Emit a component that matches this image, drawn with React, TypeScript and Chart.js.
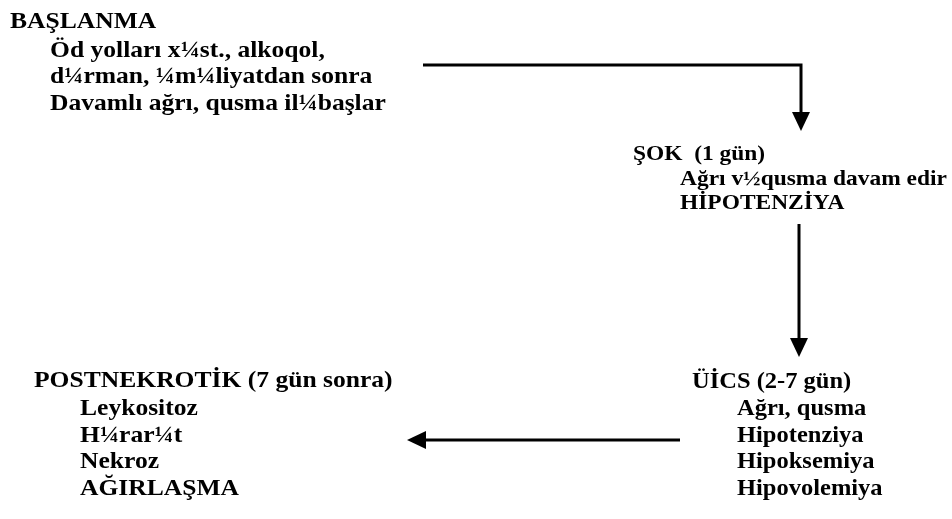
import React, { useEffect, useRef } from "react";
import { Chart, registerables } from "chart.js";

Chart.register(...registerables);

// Text blocks: label, x, baseline y (scale units = page pixels)
const textLabels: string[] = [
  "BAŞLANMA",
  "Öd yolları x¼st., alkoqol,",
  "d¼rman, ¼m¼liyatdan sonra",
  "Davamlı ağrı, qusma il¼başlar",
  "ŞOK  (1 gün)",
  "Ağrı v½qusma davam edir",
  "HİPOTENZİYA",
  "POSTNEKROTİK (7 gün sonra)",
  "Leykositoz",
  "H¼rar¼t",
  "Nekroz",
  "AĞIRLAŞMA",
  "ÜİCS (2-7 gün)",
  "Ağrı, qusma",
  "Hipotenziya",
  "Hipoksemiya",
  "Hipovolemiya",
];
const textX: number[] = [10, 50, 50, 50, 633, 680, 680, 34, 80, 80, 80, 80, 692, 737, 737, 737, 737];
const textY: number[] = [28, 57, 83, 110, 160, 185, 209, 387, 415, 442, 468, 495, 388, 415, 442, 468, 495];
const textSize: number[] = [24, 24, 24, 24, 22, 22, 22, 24, 24, 24, 24, 24, 23, 23, 23, 23, 23];

// Arrow paths (line part) and arrow tips
const arrow1 = [
  { x: 423, y: 65 },
  { x: 801, y: 65 },
  { x: 801, y: 114 },
];
const arrow2 = [
  { x: 799, y: 224 },
  { x: 799, y: 341 },
];
const arrow3 = [
  { x: 680, y: 440 },
  { x: 424, y: 440 },
];
const arrowTips = [
  { x: 801, y: 131, dir: "down" },
  { x: 799, y: 357, dir: "down" },
  { x: 407, y: 440, dir: "left" },
];

const FONT_FAMILY = '"Liberation Serif", "Times New Roman", serif';
const TEXT_STRETCH = 1.065;

const overlayPlugin = {
  id: "overlay",
  afterDatasetsDraw(chart: any) {
    const ctx = chart.ctx;
    const xs = chart.scales.x;
    const ys = chart.scales.y;
    ctx.save();
    ctx.fillStyle = "#000";
    arrowTips.forEach((t) => {
      const px = xs.getPixelForValue(t.x);
      const py = ys.getPixelForValue(t.y);
      ctx.beginPath();
      if (t.dir === "down") {
        ctx.moveTo(px, py);
        ctx.lineTo(px - 9, py - 19);
        ctx.lineTo(px + 9, py - 19);
      } else {
        ctx.moveTo(px, py);
        ctx.lineTo(px + 19, py - 9);
        ctx.lineTo(px + 19, py + 9);
      }
      ctx.closePath();
      ctx.fill();
    });
    ctx.textBaseline = "alphabetic";
    ctx.textAlign = "left";
    textLabels.forEach((s, i) => {
      ctx.save();
      ctx.font = `bold ${textSize[i]}px ${FONT_FAMILY}`;
      ctx.translate(xs.getPixelForValue(textX[i]), ys.getPixelForValue(textY[i]));
      ctx.scale(TEXT_STRETCH, 1);
      ctx.fillText(s, 0, 0);
      ctx.restore();
    });
    ctx.restore();
  },
};

export default function App() {
  const ref = useRef<HTMLCanvasElement | null>(null);
  useEffect(() => {
    document.body.style.margin = "0";
    document.body.style.background = "#fff";
    let chart: Chart | null = null;
    let cancelled = false;
    const lineDs = (data: any[]) => ({
      data,
      showLine: true,
      borderColor: "#000",
      borderWidth: 3,
      pointRadius: 0,
      fill: false,
      tension: 0,
      borderJoinStyle: "miter" as const,
    });
    const build = () => {
      if (cancelled || !ref.current) return;
      chart = new Chart(ref.current, {
        type: "scatter",
        data: { datasets: [lineDs(arrow1), lineDs(arrow2), lineDs(arrow3)] },
        options: {
          animation: false,
          responsive: false,
          maintainAspectRatio: false,
          layout: { padding: 0 },
          plugins: { legend: { display: false }, tooltip: { enabled: false } },
          scales: {
            x: { type: "linear", min: 0, max: 952, display: false },
            y: { type: "linear", min: 0, max: 519, reverse: true, display: false },
          },
        },
        plugins: [overlayPlugin],
      });
    };
    const fonts: any = (document as any).fonts;
    if (fonts && fonts.load) {
      Promise.all([
        fonts.load(`bold 24px "Liberation Serif"`, "BAŞLANMA ğış¼½"),
        fonts.load(`bold 22px "Liberation Serif"`, "ŞOK"),
      ])
        .catch(() => null)
        .then(build);
    } else {
      build();
    }
    return () => {
      cancelled = true;
      if (chart) chart.destroy();
    };
  }, []);
  return (
    <div style={{ position: "fixed", left: 0, top: 0, width: 952, height: 519, background: "#fff" }}>
      <canvas ref={ref} width={952} height={519} style={{ width: 952, height: 519 }} />
    </div>
  );
}
